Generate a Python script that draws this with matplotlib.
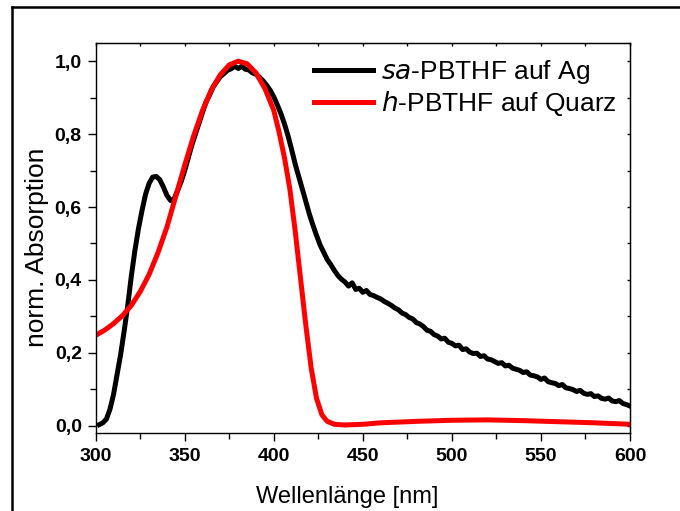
import matplotlib
matplotlib.use("Agg")
import matplotlib.pyplot as plt
from matplotlib.ticker import MultipleLocator, FuncFormatter
from matplotlib.lines import Line2D

plt.rcParams['font.family'] = ['Liberation Sans', 'DejaVu Sans']

# sa-PBTHF on silver (normalised absorption), 2 nm steps from 302 to 600 nm
wl_ag = list(range(302, 601, 2))
abs_ag = [0.003, 0.008, 0.018, 0.045, 0.085, 0.140, 0.195, 0.260, 0.330, 0.410,
          0.480, 0.540, 0.590, 0.635, 0.665, 0.682, 0.684, 0.675, 0.655, 0.632,
          0.618, 0.622, 0.645, 0.670, 0.700, 0.735, 0.770, 0.800, 0.830, 0.860,
          0.888, 0.908, 0.930, 0.944, 0.958, 0.966, 0.975, 0.979, 0.986, 0.980,
          0.986, 0.978, 0.976, 0.968, 0.964, 0.956, 0.946, 0.934, 0.920, 0.902,
          0.880, 0.856, 0.828, 0.795, 0.758, 0.718, 0.684, 0.650, 0.615, 0.580,
          0.550, 0.522, 0.496, 0.476, 0.456, 0.442, 0.426, 0.412, 0.402,
          0.394, 0.383, 0.392, 0.374, 0.377, 0.366, 0.371, 0.360, 0.357, 0.352,
          0.348, 0.341, 0.336, 0.330, 0.323, 0.318, 0.309, 0.305, 0.297, 0.293,
          0.283, 0.279, 0.272, 0.262, 0.259, 0.250, 0.246, 0.238, 0.240, 0.229,
          0.226, 0.219, 0.221, 0.209, 0.211, 0.202, 0.198, 0.199, 0.190, 0.192,
          0.183, 0.181, 0.176, 0.171, 0.173, 0.164, 0.166, 0.158, 0.155, 0.152,
          0.146, 0.148, 0.139, 0.137, 0.134, 0.127, 0.131, 0.121, 0.118, 0.116,
          0.110, 0.113, 0.104, 0.102, 0.099, 0.094, 0.097, 0.089, 0.086, 0.088,
          0.080, 0.082, 0.075, 0.073, 0.076, 0.068, 0.066, 0.069, 0.061, 0.058,
          0.054]

# h-PBTHF on quartz (normalised absorption)
wl_qz = [300, 305, 310, 315, 320, 325, 330, 335, 340, 345, 350, 355, 360, 365,
         370, 375, 380, 385, 390, 395, 400, 403, 406, 409, 412, 415, 418, 421,
         424, 427, 430, 434, 440, 450, 460, 480, 500, 520, 540, 560, 580, 600]
abs_qz = [0.248, 0.262, 0.280, 0.302, 0.330, 0.368, 0.415, 0.475, 0.545, 0.630,
          0.715, 0.795, 0.865, 0.922, 0.963, 0.990, 1.000, 0.993, 0.968, 0.925,
          0.865, 0.805, 0.735, 0.650, 0.535, 0.405, 0.275, 0.158, 0.075, 0.030,
          0.012, 0.004, 0.002, 0.004, 0.008, 0.012, 0.015, 0.016, 0.014, 0.011,
          0.008, 0.004]

labels = [r'$\it{sa}$-PBTHF auf Ag', r'$\it{h}$-PBTHF auf Quarz']

fig = plt.figure(figsize=(6.8, 5.11), dpi=100)
ax = fig.add_axes([0.1407, 0.1526, 0.7858, 0.7633])

ax.plot(wl_ag, abs_ag, color='black', lw=3.6, solid_joinstyle='round',
        label=labels[0])
ax.plot(wl_qz, abs_qz, color='#ff0000', lw=3.6, label=labels[1])

ax.set_xlim(300, 600)
ax.set_ylim(-0.02, 1.05)

ax.xaxis.set_major_locator(MultipleLocator(50))
ax.xaxis.set_minor_locator(MultipleLocator(25))
ax.yaxis.set_major_locator(MultipleLocator(0.2))
ax.yaxis.set_minor_locator(MultipleLocator(0.1))
ax.yaxis.set_major_formatter(FuncFormatter(lambda v, p: f'{v:.1f}'.replace('.', ',')))

ax.tick_params(which='major', direction='out', length=6, width=1.0, pad=4,
               labelsize=14)
ax.tick_params(which='minor', direction='out', length=4, width=1.0)
for lab in ax.get_xticklabels() + ax.get_yticklabels():
    lab.set_fontweight('bold')
ax.tick_params(axis='x', pad=5)

for s in ax.spines.values():
    s.set_linewidth(1.0)

# unlabelled inward ticks on top and right
top = ax.secondary_xaxis('top')
top.xaxis.set_major_locator(MultipleLocator(50))
top.xaxis.set_minor_locator(MultipleLocator(25))
top.tick_params(which='both', direction='in', length=2.5, width=1.0,
                labelleft=False, labeltop=False)
right = ax.secondary_yaxis('right')
right.yaxis.set_major_locator(MultipleLocator(0.2))
right.yaxis.set_minor_locator(MultipleLocator(0.1))
right.tick_params(which='both', direction='in', length=2.5, width=1.0,
                  labelright=False)

ax.set_xlabel('Wellenlänge [nm]', fontsize=17)
ax.set_ylabel('norm. Absorption', fontsize=19)
ax.xaxis.set_label_coords(0.471, -0.136)
ax.yaxis.set_label_coords(-0.088, 0.477)

leg = ax.legend(loc='upper right', bbox_to_anchor=(0.976, 0.962),
                frameon=False, fontsize=19, handlelength=2.25,
                handletextpad=0.3, labelspacing=0.12, borderpad=0,
                borderaxespad=0)

# outer frame: left and top edges
fig.add_artist(Line2D([0.0176, 0.0176], [0.0, 0.987], color='black', lw=1.8,
                      transform=fig.transFigure))
fig.add_artist(Line2D([0.0176, 1.0], [0.987, 0.987], color='black', lw=1.8,
                      transform=fig.transFigure))

fig.savefig('out.png', dpi=100)
